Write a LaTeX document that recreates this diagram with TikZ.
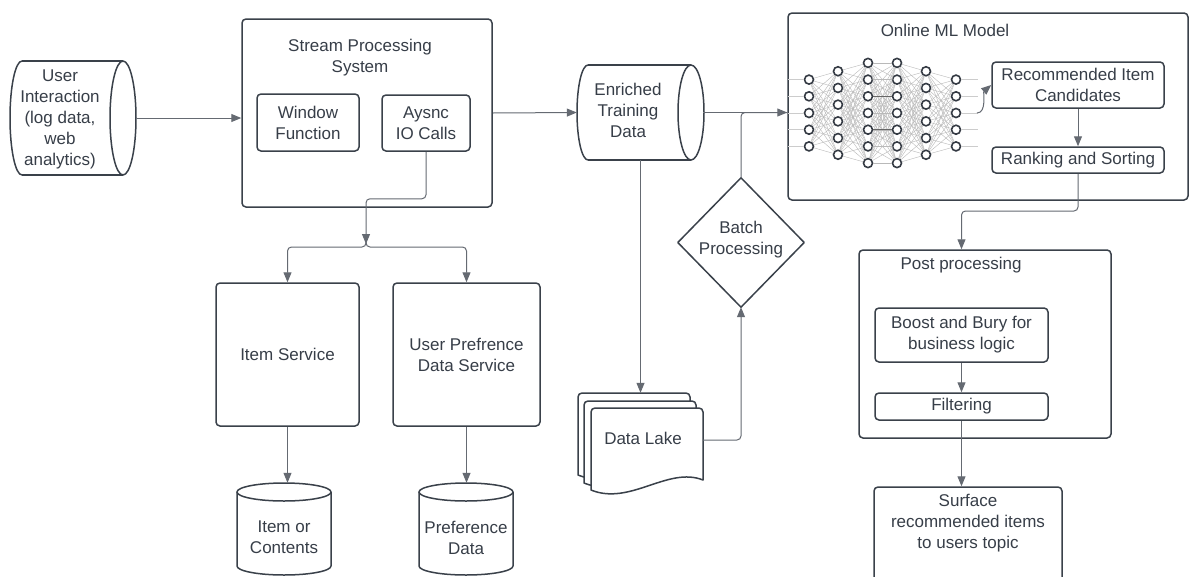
\documentclass[tikz,border=0pt]{standalone}
\usepackage{fontspec}
\setmainfont{Liberation Sans}
\usetikzlibrary{arrows.meta}
\definecolor{ink}{HTML}{3A414A}
\definecolor{txt}{HTML}{373E48}
\definecolor{connc}{HTML}{656A72}
\begin{document}
\begin{tikzpicture}[x=1pt,y=-1pt,
  every node/.style={font=\fontsize{17}{21}\selectfont, text=txt, align=center, inner sep=0pt},
  box/.style={draw=ink, line width=1.5pt, rounded corners=4pt, fill=white},
  ghost/.style={draw=none, rectangle},
  outline/.style={draw=ink, line width=1.5pt},
  conn/.style={draw=connc, line width=1pt, rounded corners=4pt},
  arr/.style={-{Triangle[length=10pt,width=8pt]}},
  neuron/.style={circle, draw=ink!90!black, fill=white, line width=1.6pt, minimum size=9pt, inner sep=0pt},
  nnedge/.style={draw=gray!55, line width=0.4pt},
  nnline/.style={draw=gray!40, line width=0.9pt}]
\useasboundingbox (0,0) rectangle (1189,576);
\clip (0,0) rectangle (1189,576);
\fill[white] (0,0) rectangle (1189,576);

% ---------- User Interaction cylinder
\node[ghost, minimum width=127pt, minimum height=114pt] (ui) at (73.5,118) {};
\draw[outline] (22,61) -- (123,61) (22,175) -- (123,175);
\draw[outline] (123,118) ellipse [x radius=13, y radius=57];
\draw[outline] (22,61) arc[start angle=270, end angle=90, x radius=12, y radius=57];
\node (uitext) at (60,119.5) {User\\Interaction\\(log data,\\web\\analytics)};

% ---------- Stream processing system
\node[box, minimum width=250pt, minimum height=188pt] (sps) at (367,113) {};
\node (spstitle) at (360,57.5) {Stream Processing\\System};
\node[box, minimum width=102pt, minimum height=57pt] (wf) at (308,122.5) {Window\\Function};
\node[box, minimum width=88pt, minimum height=56pt] (aio) at (426,123) {Aysnc\\IO Calls};

% ---------- Services
\node[box, minimum width=143pt, minimum height=143pt] (isvc) at (287.5,354.5) {Item Service};
\node[box, minimum width=147pt, minimum height=143pt] (ups) at (466.5,354.5) {User Prefrence\\Data Service};

% ---------- Vertical cylinders
\node[ghost, minimum width=94pt, minimum height=92pt] (ioc) at (284,529) {};
\draw[outline] (237,492) -- (237,566) arc[start angle=180, end angle=0, x radius=47, y radius=9] -- (331,492);
\draw[outline] (284,492) ellipse [x radius=47, y radius=9];
\node (ioctext) at (284,537.5) {Item or\\Contents};

\node[ghost, minimum width=94pt, minimum height=92pt] (pd) at (466,529) {};
\draw[outline] (419,492) -- (419,566) arc[start angle=180, end angle=0, x radius=47, y radius=9] -- (513,492);
\draw[outline] (466,492) ellipse [x radius=47, y radius=9];
\node (pdtext) at (466,537.5) {Preference\\Data};

% ---------- Enriched training data cylinder
\node[ghost, minimum width=127pt, minimum height=95pt] (etd) at (640.5,112.5) {};
\draw[outline] (588,65) -- (691,65) (588,160) -- (691,160);
\draw[outline] (691,112.5) ellipse [x radius=13, y radius=47.5];
\draw[outline] (588,65) arc[start angle=270, end angle=90, x radius=11, y radius=47.5];
\node (etdtext) at (628,110) {Enriched\\Training\\Data};

% ---------- Batch processing diamond
\node[ghost, minimum width=126pt, minimum height=129pt] (bp) at (741,242.5) {};
\draw[outline, line join=round] (bp.north) -- (bp.east) -- (bp.south) -- (bp.west) -- cycle;
\node (bptext) at (741,240) {Batch\\Processing};

% ---------- Data lake (stacked documents)
\node[ghost, minimum width=125pt, minimum height=94pt] (dlstack) at (640.5,440) {};
\foreach \dx/\dy in {-13/-15,-7/-7,0/0}{
  \filldraw[fill=white, draw=ink, line width=1.5pt, line join=round]
    ({591+\dx},{490+\dy}) -- ({591+\dx},{412+\dy})
    arc[start angle=180, end angle=270, radius=4] -- ({699+\dx},{408+\dy})
    arc[start angle=270, end angle=360, radius=4] -- ({703+\dx},{480+\dy})
    .. controls ({668+\dx},{466+\dy}) and ({630+\dx},{506+\dy}) .. ({591+\dx},{490+\dy}) -- cycle;
}
\node (dltext) at (643,438) {Data Lake};

% ---------- Online ML model
\node[box, minimum width=400pt, minimum height=187pt] (ml) at (988,106.5) {};
\node (mltitle) at (945,30) {Online ML Model};
\foreach \x/\n in {809/5,838/6,868/7,897/7,926/6,956/5}{
  \foreach \i in {1,...,\n}{
    \node[neuron] (nn-\x-\i) at (\x,{113+(\i-(\n+1)/2)*16.7}) {};
  }
}
\foreach \xa/\na/\xb/\nb in {809/5/838/6, 838/6/868/7, 868/7/897/7, 897/7/926/6, 926/6/956/5}{
  \foreach \i in {1,...,\na}{
    \foreach \j in {1,...,\nb}{
      \draw[nnedge] (nn-\xa-\i) -- (nn-\xb-\j);
    }
  }
}
\foreach \i in {1,...,5}{
  \draw[nnline] (nn-809-\i.west) -- ++(-16,0);
  \draw[nnline] (nn-956-\i.east) -- ++(17,0);
}
\draw[draw=gray!80!black, line width=0.7pt] (nn-868-3) -- (nn-897-3);
\draw[draw=gray!80!black, line width=0.7pt] (nn-868-5) -- (nn-897-5);
\coordinate (nnout) at (977,113);
\node[box, minimum width=172pt, minimum height=46pt] (ric) at (1078,85) {Recommended Item\\Candidates};
\node[box, minimum width=172pt, minimum height=26pt] (rs) at (1078,160) {Ranking and Sorting};

% ---------- Post processing
\node[box, minimum width=252pt, minimum height=188pt] (pp) at (985,344) {};
\node (pptitle) at (961,265) {Post processing};
\node[box, minimum width=173pt, minimum height=54pt] (bb) at (961.5,335) {Boost and Bury for\\business logic};
\node[box, minimum width=173pt, minimum height=27pt] (ft) at (961.5,406.5) {Filtering};
\node[box, minimum width=188pt, minimum height=113pt] (sf) at (968,543.5) {};
\node (sftext) at (968,523) {Surface\\recommended items\\to users topic};

% ---------- Connectors
\draw[conn, arr] (ui.east) -- (ui.east -| sps.west);
\draw[conn, arr] (sps.east) -- (etd.west);
\coordinate (split) at (366,244);
\coordinate (bus) at (366,247);
\draw[conn, arr] (aio.south) -- ++(0,47) -| (split);
\draw[conn, arr] (split) -- (bus) -| (isvc.north);
\draw[conn, arr] (split) -- (bus) -| (ups.north);
\draw[conn, arr] (isvc.south) -- (isvc.south |- ioc.north);
\draw[conn, arr] (ups.south) -- (ups.south |- pd.north);
\draw[conn, arr] (etd.south) -- (dlstack.north);
\draw[conn, arr] (dlstack.east) -| (bp.south);
\draw[conn] (bp.north) |- (etd.east -| ml.west);
\draw[conn, arr] (etd.east) -- (etd.east -| ml.west);
\draw[conn, arr, rounded corners=0pt] (nnout) .. controls (987,113) and (983,92) .. (ric.west);
\draw[conn, arr] (ric.south) -- (rs.north);
\coordinate (turn) at (1078,211);
\draw[conn, arr] (rs.south) -- (turn) -| (bb.north |- pp.north);
\draw[conn, arr] (bb.south) -- (ft.north);
\draw[conn, arr] (ft.south) -- (ft.south |- sf.north);
\end{tikzpicture}
\end{document}
